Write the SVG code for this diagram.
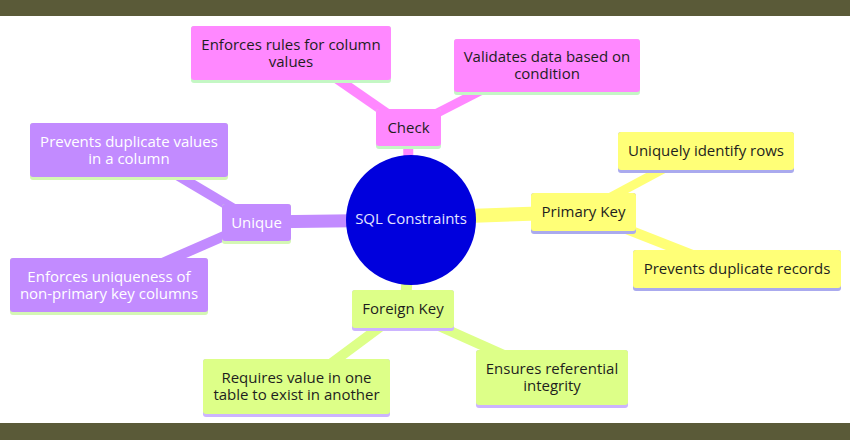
<svg xmlns="http://www.w3.org/2000/svg" width="850" height="440" viewBox="0 0 850 440">
<style>
text{font-family:"Open Sans","Noto Sans","DejaVu Sans",sans-serif;font-size:15px;text-anchor:middle;fill:#1e1e1e}
.wt{fill:#ffffff}
.ct{fill:#e4e4ff}
.pk{fill:#ff88ff}.pkb{fill:#c4f7c4}
.pu{fill:#c28bff}.pub{fill:#d4f7b4}
.ye{fill:#ffff77}.yeb{fill:#aaaaee}
.gr{fill:#ddff88}.grb{fill:#ccb4ff}
.cp{stroke:#ff88ff;fill:none}
.cu{stroke:#c28bff;fill:none}
.cy{stroke:#ffff77;fill:none}
.cg{stroke:#ddff88;fill:none}
</style>
<rect x="0" y="0" width="850" height="440" fill="#ffffff"/>
<rect x="0" y="0" width="850" height="16" fill="#5a5a38"/>
<rect x="0" y="423" width="850" height="17" fill="#5a5a38"/>
<g id="connectors">
<line class="cp" x1="409" y1="220" x2="408" y2="128" stroke-width="10"/>
<line class="cp" x1="408" y1="128" x2="330" y2="74" stroke-width="10"/>
<line class="cp" x1="408" y1="128" x2="490" y2="86" stroke-width="9"/>
<line class="cu" x1="411" y1="220" x2="256" y2="222" stroke-width="13"/>
<line class="cu" x1="256" y1="222" x2="160" y2="165" stroke-width="10"/>
<line class="cu" x1="256" y1="222" x2="160" y2="264" stroke-width="10"/>
<line class="cy" x1="411" y1="218" x2="583" y2="212" stroke-width="14"/>
<line class="cy" x1="583" y1="212" x2="680" y2="160" stroke-width="9"/>
<line class="cy" x1="583" y1="212" x2="700" y2="258" stroke-width="10"/>
<line class="cg" x1="411" y1="220" x2="405" y2="310" stroke-width="11"/>
<line class="cg" x1="403" y1="310" x2="325" y2="368" stroke-width="10"/>
<line class="cg" x1="403" y1="310" x2="515" y2="360" stroke-width="10"/>
</g>
<g id="center">
<circle cx="411" cy="220" r="65" fill="#0000dd"/>
<text class="ct" x="411" y="224">SQL Constraints</text>
</g>
<g id="check">
<rect class="pkb" x="376" y="109" width="65" height="40" rx="3"/>
<rect class="pk" x="376" y="109" width="65" height="37" rx="3"/>
<text x="408.5" y="133">Check</text>
</g>
<g id="check-rules">
<rect class="pkb" x="191" y="26" width="200" height="57" rx="3"/>
<rect class="pk" x="191" y="26" width="200" height="54" rx="3"/>
<text x="291" y="49.5">Enforces rules for column</text>
<text x="291" y="66.5">values</text>
</g>
<g id="check-validates">
<rect class="pkb" x="454" y="39" width="186" height="56" rx="3"/>
<rect class="pk" x="454" y="39" width="186" height="53" rx="3"/>
<text x="547" y="62">Validates data based on</text>
<text x="547" y="79">condition</text>
</g>
<g id="unique">
<rect class="pub" x="222" y="204" width="69" height="40" rx="3"/>
<rect class="pu" x="222" y="204" width="69" height="37" rx="3"/>
<text class="wt" x="256.5" y="228">Unique</text>
</g>
<g id="unique-prevents">
<rect class="pub" x="30" y="123" width="198" height="57" rx="3"/>
<rect class="pu" x="30" y="123" width="198" height="54" rx="3"/>
<text class="wt" x="129" y="146.5">Prevents duplicate values</text>
<text class="wt" x="129" y="163.5">in a column</text>
</g>
<g id="unique-enforces">
<rect class="pub" x="10" y="258" width="198" height="57" rx="3"/>
<rect class="pu" x="10" y="258" width="198" height="54" rx="3"/>
<text class="wt" x="109" y="281.5">Enforces uniqueness of</text>
<text class="wt" x="109" y="298.5">non-primary key columns</text>
</g>
<g id="primary-key">
<rect class="yeb" x="531" y="193" width="105" height="41" rx="3"/>
<rect class="ye" x="531" y="193" width="105" height="38" rx="3"/>
<text x="583.5" y="217">Primary Key</text>
</g>
<g id="pk-identify">
<rect class="yeb" x="618" y="132" width="176" height="41" rx="3"/>
<rect class="ye" x="618" y="132" width="176" height="38" rx="3"/>
<text x="706" y="156">Uniquely identify rows</text>
</g>
<g id="pk-prevents">
<rect class="yeb" x="633" y="250" width="208" height="41" rx="3"/>
<rect class="ye" x="633" y="250" width="208" height="38" rx="3"/>
<text x="737" y="274">Prevents duplicate records</text>
</g>
<g id="foreign-key">
<rect class="grb" x="352" y="290" width="102" height="41" rx="3"/>
<rect class="gr" x="352" y="290" width="102" height="38" rx="3"/>
<text x="403" y="314">Foreign Key</text>
</g>
<g id="fk-requires">
<rect class="grb" x="203" y="359" width="187" height="58" rx="3"/>
<rect class="gr" x="203" y="359" width="187" height="55" rx="3"/>
<text x="296.5" y="382.5">Requires value in one</text>
<text x="296.5" y="399.5">table to exist in another</text>
</g>
<g id="fk-ensures">
<rect class="grb" x="476" y="350" width="152" height="58" rx="3"/>
<rect class="gr" x="476" y="350" width="152" height="55" rx="3"/>
<text x="552" y="374">Ensures referential</text>
<text x="552" y="391">integrity</text>
</g>
</svg>
